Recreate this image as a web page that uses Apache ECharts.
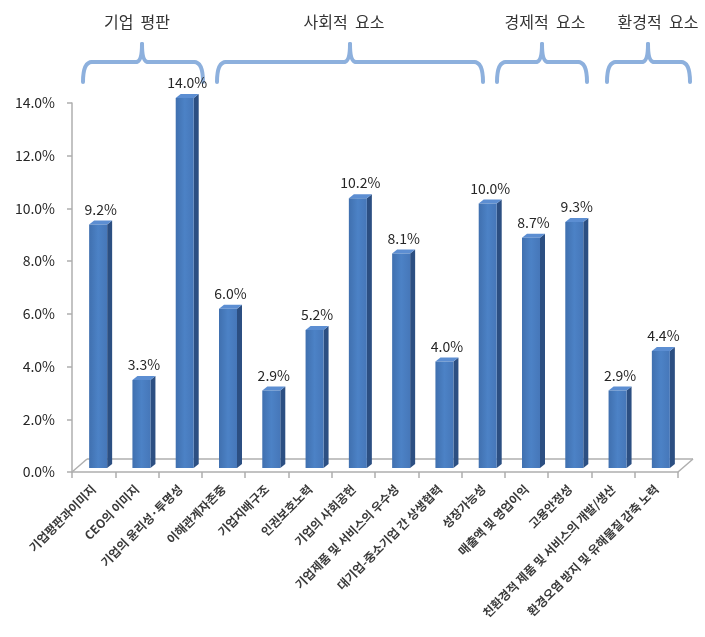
<!DOCTYPE html>
<html>
<head>
<meta charset="utf-8">
<script src="https://cdn.jsdelivr.net/npm/echarts@6/dist/echarts.min.js"></script>
<style>
  html, body { margin: 0; padding: 0; background: #fff; }
  #chart { width: 705px; height: 637px; }
</style>
</head>
<body>
<div id="chart"></div>
<script>
// 항목 및 비율 (%)
const categories = [
  '기업평판과이미지', 'CEO의 이미지', '기업의 윤리성·투명성', '이해관계자존중',
  '기업지배구조', '인권보호노력', '기업의 사회공헌', '기업제품 및 서비스의 우수성',
  '대기업-중소기업 간 상생협력', '성장가능성', '매출액 및 영업이익', '고용안정성',
  '친환경적 제품 및 서비스의 개발/생산', '환경오염 방지 및 유해물질 감축 노력'
]
const values = [9.2, 3.3, 14.0, 6.0, 2.9, 5.2, 10.2, 8.1, 4.0, 10.0, 8.7, 9.3, 2.9, 4.4]
const yTicks = [0, 2, 4, 6, 8, 10, 12, 14]

// 상단 그룹 (괄호)
const groupNames = ['기업  평판', '사회적  요소', '경제적  요소', '환경적  요소']
const groupSpans = [[83, 203], [217, 483], [497, 587], [607, 690]]
const groupPeaks = [142, 350, 542, 648]
const groupTitleX = [137, 344, 545, 658]

const FONT = '"Noto Sans CJK KR", "Noto Sans", sans-serif'
const chart = echarts.init(document.getElementById('chart'))

const frontColor = {
  type: 'linear', x: 0, y: 0, x2: 1, y2: 0,
  colorStops: [
    { offset: 0, color: '#4070AF' },
    { offset: 0.5, color: '#4C82C6' },
    { offset: 1, color: '#4677B9' }
  ]
}

function renderBar (params, api) {
  const base = api.coord([api.value(0), 0])
  const top = api.coord([api.value(0), api.value(1)])
  const cx = base[0] + 4.5
  const w = 18
  const dx = 5
  const dy = -4
  const y0 = base[1] - 4
  const y1 = top[1] - 5
  const l = cx - w / 2
  const r = cx + w / 2
  return {
    type: 'group',
    children: [
      {
        type: 'polygon',
        shape: { points: [[r, y1], [r + dx, y1 + dy], [r + dx, y0 + dy], [r, y0]] },
        style: { fill: '#2C4F82' }
      },
      {
        type: 'polygon',
        shape: { points: [[l, y1], [l + dx, y1 + dy], [r + dx, y1 + dy], [r, y1]] },
        style: { fill: '#5C8ED2' }
      },
      {
        type: 'rect',
        shape: { x: l, y: y1, width: w, height: y0 - y1 },
        style: { fill: frontColor }
      },
      {
        type: 'text',
        style: {
          x: cx + 2.5,
          y: y1 - 8,
          text: api.value(1).toFixed(1) + '%',
          align: 'center',
          verticalAlign: 'bottom',
          fill: '#262626',
          font: '14px ' + FONT
        }
      }
    ]
  }
}

// 괄호 그리기
const braceStyle = { fill: 'none', stroke: '#8DB0DD', lineWidth: 4, lineCap: 'round' }
function braceParts (x0, x1, xp) {
  const yEnd = 82
  const yLine = 62
  const yPeak = 44
  const segs = [
    { type: 'bezierCurve', shape: { x1: x0, y1: yEnd, cpx1: x0, cpy1: yLine, x2: x0 + 9, y2: yLine } },
    { type: 'line', shape: { x1: x0 + 9, y1: yLine, x2: xp - 6, y2: yLine } },
    { type: 'bezierCurve', shape: { x1: xp - 6, y1: yLine, cpx1: xp, cpy1: yLine, x2: xp, y2: yPeak } },
    { type: 'bezierCurve', shape: { x1: xp, y1: yPeak, cpx1: xp, cpy1: yLine, x2: xp + 6, y2: yLine } },
    { type: 'line', shape: { x1: xp + 6, y1: yLine, x2: x1 - 9, y2: yLine } },
    { type: 'bezierCurve', shape: { x1: x1 - 9, y1: yLine, cpx1: x1, cpy1: yLine, x2: x1, y2: yEnd } }
  ]
  segs.forEach(s => { s.style = braceStyle })
  return segs
}

let graphics = []
groupNames.forEach((name, i) => {
  graphics = graphics.concat(braceParts(groupSpans[i][0], groupSpans[i][1], groupPeaks[i]))
  graphics.push({
    type: 'text',
    style: {
      x: groupTitleX[i],
      y: 22,
      text: name,
      align: 'center',
      verticalAlign: 'middle',
      fill: '#333',
      font: '16px ' + FONT
    }
  })
})

chart.setOption({
  animation: false,
  textStyle: { fontFamily: FONT },
  grid: { left: 72, right: 27, top: 103, bottom: 165, containLabel: false },
  xAxis: {
    type: 'category',
    data: categories,
    boundaryGap: true,
    axisLine: { lineStyle: { color: '#AFAFAF', width: 1.5 } },
    axisTick: { show: true, length: 6, lineStyle: { color: '#AFAFAF', width: 1.5 } },
    axisLabel: { interval: 0, rotate: 45, fontSize: 12, fontWeight: 'bold', color: '#3a3a3a', margin: 15 }
  },
  yAxis: {
    type: 'value',
    min: yTicks[0],
    max: yTicks[yTicks.length - 1],
    interval: 2,
    splitLine: { show: false },
    axisLine: { show: true, lineStyle: { color: '#AFAFAF', width: 1.5 } },
    axisTick: { show: true, length: 5, lineStyle: { color: '#AFAFAF', width: 1.5 } },
    axisLabel: { formatter: v => v.toFixed(1) + '%', fontSize: 14, color: '#262626', margin: 17 }
  },
  series: [{
    type: 'custom',
    renderItem: renderBar,
    data: values.map((v, i) => [i, v]),
    encode: { x: 0, y: 1 },
    z: 3
  }],
  graphic: graphics
})

// 바닥 (3D floor)
const p0 = chart.convertToPixel({ gridIndex: 0 }, [0, 0])
const p1 = chart.convertToPixel({ gridIndex: 0 }, [1, 0])
const cw = p1[0] - p0[0]
const xl = p0[0] - cw / 2
const xr = xl + cw * categories.length
const yb = p0[1]
const floor = [
  [[xl, yb], [xl + 15, yb - 13]],
  [[xl + 15, yb - 13], [xr + 15, yb - 13]],
  [[xr, yb], [xr + 15, yb - 13]]
].map(pts => ({
  type: 'polyline',
  shape: { points: pts },
  style: { stroke: '#AFAFAF', lineWidth: 1.5, fill: 'none' },
  z: 1
}))
chart.setOption({ graphic: graphics.concat(floor) })
</script>
</body>
</html>
